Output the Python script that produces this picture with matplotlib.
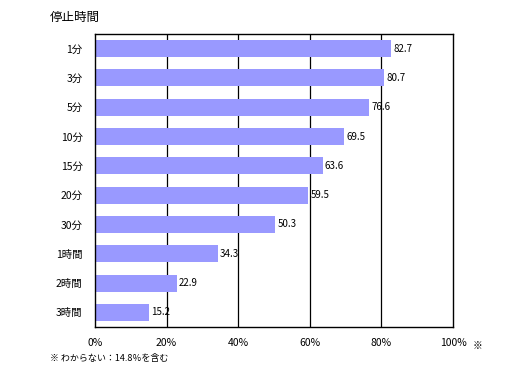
import matplotlib.pyplot as plt

plt.rcParams['font.family'] = ['Noto Sans CJK JP', 'DejaVu Sans']

# 停止時間ごとの割合
labels = ['1分', '3分', '5分', '10分', '15分', '20分', '30分', '1時間', '2時間', '3時間']
values = [82.7, 80.7, 76.6, 69.5, 63.6, 59.5, 50.3, 34.3, 22.9, 15.2]
xticks = [0, 20, 40, 60, 80, 100]

fig = plt.figure(figsize=(5.12, 3.78), dpi=100)
ax = fig.add_axes([0.1855, 0.135, 0.6995, 0.775])

y = list(range(len(labels)))
ax.barh(y, values, height=0.58, color='#9999ff', zorder=2)
for yi, v in zip(y, values):
    ax.text(v + 0.6, yi, f'{v}', va='center', ha='left', fontsize=7, zorder=3)

ax.set_xlim(0, 100)
ax.set_ylim(len(labels) - 0.5, -0.5)
ax.set_yticks(y)
ax.set_yticklabels(labels, fontsize=7.5)
ax.set_xticks(xticks)
ax.set_xticklabels([f'{t}%' for t in xticks], fontsize=7.5)
ax.tick_params(axis='both', length=0)
ax.tick_params(axis='x', pad=8)
ax.tick_params(axis='y', pad=9)
for t in xticks[1:-1]:
    ax.axvline(t, color='black', lw=0.9, zorder=1)
for s in ax.spines.values():
    s.set_linewidth(1.0)

fig.text(50 / 512, 1 - 17 / 378, '停止時間', fontsize=9, va='center', ha='left')
fig.text(50 / 512, 1 - 358 / 378, '※ わからない：14.8％を含む', fontsize=6.5, va='center', ha='left')
fig.text(473 / 512, 1 - 346 / 378, '※', fontsize=7, va='center', ha='left')

fig.savefig('out.png', dpi=100)
